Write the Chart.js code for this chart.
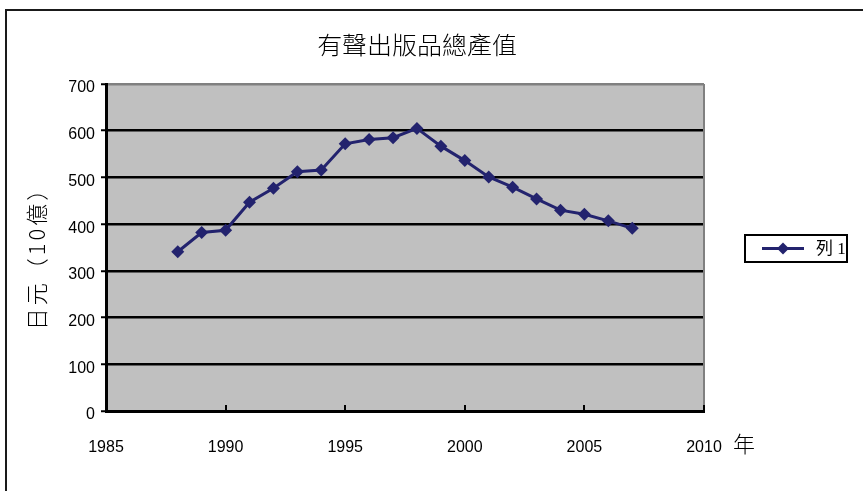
<!DOCTYPE html>
<html>
<head>
<meta charset="utf-8">
<script src="https://cdn.jsdelivr.net/npm/chart.js@4"></script>
<style>
  html, body { margin: 0; padding: 0; background: #fff; }
  #wrap { width: 863px; height: 491px; }
</style>
</head>
<body>
<div id="wrap"><canvas id="c" width="863" height="491"></canvas></div>
<script>
// Annual output of recorded music products (billion yen)
const chartTitle = '有聲出版品總產值';
const yAxisTitle = '日元（10億）';
const xAxisUnit = '年';
const seriesName = '列 1';
const years = [1988, 1989, 1990, 1991, 1992, 1993, 1994, 1995, 1996, 1997,
               1998, 1999, 2000, 2001, 2002, 2003, 2004, 2005, 2006, 2007];
const values = [341, 382, 387, 447, 477, 512, 516, 572, 581, 585,
                605, 567, 536, 501, 479, 454, 430, 421, 407, 391];
const xTicks = [1985, 1990, 1995, 2000, 2005, 2010];
const yTicks = [0, 100, 200, 300, 400, 500, 600, 700];

const lineColor = '#23236E';
const plotGray = '#C0C0C0';
const sansFont = '"Liberation Sans", Arial, sans-serif';
const cjkSans = '"Noto Sans CJK TC", "Noto Sans CJK JP", sans-serif';
const cjkSerif = '"Liberation Serif", "Noto Sans CJK TC", serif';

const points = years.map((y, i) => ({ x: y, y: values[i] }));

// Frame, plot background, inward x ticks, titles and legend box
const decor = {
  id: 'decor',
  beforeDraw(chart) {
    const { ctx, chartArea: a } = chart;
    ctx.save();
    ctx.fillStyle = '#fff';
    ctx.fillRect(0, 0, chart.width, chart.height);
    ctx.fillStyle = plotGray;
    ctx.fillRect(a.left, a.top, a.right - a.left, a.bottom - a.top);
    ctx.restore();
  },
  beforeDatasetsDraw(chart) {
    const { ctx, chartArea: a, scales } = chart;
    ctx.save();
    // right border of plot area
    ctx.strokeStyle = '#808080';
    ctx.lineWidth = 2;
    ctx.beginPath();
    ctx.moveTo(a.right, a.top);
    ctx.lineTo(a.right, a.bottom);
    ctx.stroke();
    // x ticks pointing into the plot
    ctx.strokeStyle = '#000';
    ctx.lineWidth = 2;
    xTicks.forEach(v => {
      const px = Math.round(scales.x.getPixelForValue(v));
      ctx.beginPath();
      ctx.moveTo(px, a.bottom);
      ctx.lineTo(px, a.bottom - 6);
      ctx.stroke();
    });
    ctx.restore();
  },
  afterDraw(chart) {
    const { ctx } = chart;
    ctx.save();
    // outer chart frame
    ctx.strokeStyle = '#1a1a1a';
    ctx.lineWidth = 2;
    ctx.strokeRect(6, 10, 900, 600);

    // chart title, slightly widened
    ctx.fillStyle = '#000';
    ctx.textAlign = 'center';
    ctx.textBaseline = 'middle';
    ctx.save();
    ctx.translate(417, 45);
    ctx.scale(1.04, 1);
    ctx.font = '300 24px ' + cjkSans;
    ctx.fillText(chartTitle, 0, 0);
    ctx.restore();

    // y axis title, rotated
    ctx.save();
    ctx.translate(37, 253);
    ctx.rotate(-Math.PI / 2);
    ctx.font = '300 22px ' + cjkSans;
    ctx.letterSpacing = '3px';
    ctx.fillText(yAxisTitle, 0, 0);
    ctx.restore();

    // unit after the last x label
    ctx.font = '300 22px ' + cjkSans;
    ctx.textAlign = 'center';
    ctx.fillText(xAxisUnit, 744, 444);

    // legend
    const lx = 745, ly = 235, lw = 102, lh = 27;
    ctx.fillStyle = '#fff';
    ctx.fillRect(lx, ly, lw, lh);
    ctx.strokeStyle = '#000';
    ctx.lineWidth = 2;
    ctx.strokeRect(lx, ly, lw, lh);
    const cy = ly + lh / 2;
    ctx.strokeStyle = lineColor;
    ctx.lineWidth = 3;
    ctx.beginPath();
    ctx.moveTo(762, cy);
    ctx.lineTo(804, cy);
    ctx.stroke();
    ctx.fillStyle = lineColor;
    ctx.beginPath();
    ctx.moveTo(783, cy - 6);
    ctx.lineTo(789, cy);
    ctx.lineTo(783, cy + 6);
    ctx.lineTo(777, cy);
    ctx.closePath();
    ctx.fill();
    ctx.fillStyle = '#000';
    ctx.font = '17px ' + cjkSerif;
    ctx.textAlign = 'left';
    ctx.fillText(seriesName, 816, cy + 1);
    ctx.restore();
  }
};

new Chart(document.getElementById('c'), {
  type: 'scatter',
  data: {
    datasets: [{
      label: seriesName,
      data: points,
      showLine: true,
      borderColor: lineColor,
      backgroundColor: lineColor,
      borderWidth: 3,
      pointStyle: 'rectRot',
      pointRadius: 6.5,
      pointHoverRadius: 6.5,
      pointBorderWidth: 0,
      tension: 0
    }]
  },
  options: {
    responsive: false,
    animation: false,
    events: [],
    layout: { padding: { top: 84, right: 159, bottom: 20, left: 0 } },
    plugins: {
      legend: { display: false },
      title: { display: false },
      tooltip: { enabled: false }
    },
    scales: {
      x: {
        type: 'linear',
        min: xTicks[0],
        max: xTicks[xTicks.length - 1],
        afterBuildTicks: s => { s.ticks = xTicks.map(v => ({ value: v })); },
        afterFit: s => { s.height = 60; },
        grid: { display: true, drawOnChartArea: false, drawTicks: false },
        border: { display: true, color: '#000', width: 3 },
        ticks: {
          color: '#000',
          font: { family: sansFont, size: 16 },
          padding: 27,
          maxRotation: 0,
          callback: v => String(v)
        }
      },
      y: {
        min: yTicks[0],
        max: yTicks[yTicks.length - 1],
        afterBuildTicks: s => { s.ticks = yTicks.map(v => ({ value: v })); },
        afterFit: s => { s.width = 106; },
        grid: {
          color: c => (c.tick && c.tick.value === 700) ? '#808080' : '#000',
          lineWidth: 2.5,
          tickColor: '#000',
          tickLength: 5,
          tickWidth: 2
        },
        border: { display: true, color: '#000', width: 3 },
        ticks: {
          color: '#000',
          font: { family: sansFont, size: 16 },
          padding: 6,
          labelOffset: 4,
          callback: v => String(v)
        }
      }
    }
  },
  plugins: [decor]
});
</script>
</body>
</html>
